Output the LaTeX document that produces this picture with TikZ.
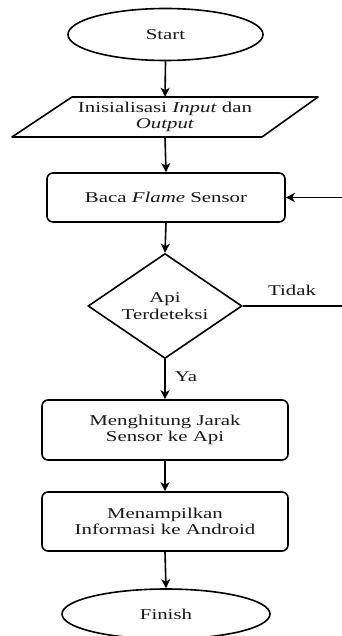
\documentclass[tikz,border=0pt]{standalone}
\usepackage{fontspec}
\setmainfont{Liberation Serif}[FakeStretch=1.39]
\usetikzlibrary{shapes.geometric,arrows.meta}
\begin{document}
\begin{tikzpicture}[x=1pt,y=-1pt,
  every node/.style={font=\fontsize{15}{16}\selectfont, text=black!90, align=center},
  line/.style={line width=1.6pt, black},
  arr/.style={line width=1.6pt, -{Stealth[length=9pt,width=9pt,inset=2.5pt]}},
  term/.style={ellipse, draw, line width=1.6pt, inner sep=0pt},
  proc/.style={rectangle, draw, line width=1.6pt, rounded corners=6pt, inner sep=0pt},
  dec/.style={diamond, draw, line width=1.6pt, inner sep=0pt, aspect=1.47},
  lbl/.style={inner sep=0pt}
]
\useasboundingbox (0,0) rectangle (341,636);

\node[term, minimum width=195, minimum height=52] (start) at (165.5,34.5) {Start};

\node[inner sep=0pt, minimum width=190, minimum height=40] (io) at (165,117) {Inisialisasi \textit{Input} dan\\\textit{Output}};
\draw[line, line join=round] (72,97) -- (318,97) -- (262,137) -- (12,137) -- cycle;

\node[proc, minimum width=238, minimum height=49] (baca) at (166,197.5) {Baca \textit{Flame} Sensor};

\node[dec, minimum width=154, minimum height=105] (api) at (165,306) {Api\\[1pt]Terdeteksi};

\node[proc, minimum width=246, minimum height=60] (hitung) at (165,430) {Menghitung Jarak\\Sensor ke Api};

\node[proc, minimum width=246, minimum height=59] (tampil) at (165,521.5) {Menampilkan\\Informasi ke Android};

\node[term, minimum width=208, minimum height=50] (finish) at (166,614) {Finish};

\coordinate (rb) at (346,306);

\draw[arr] (start.south) -- (io.north);
\draw[arr] (io.south) -- (baca.north);
\draw[arr] (baca.south) -- (api.north);
\draw[arr] (api.south) -- node[lbl, right, xshift=9pt, yshift=3pt] (ya) {Ya} (hitung.north);
\draw[arr] (hitung.south) -- (tampil.north);
\draw[arr] (tampil.south) -- (finish.north);
\draw[arr] (api.east) -- (rb) |- (baca.east);
\node[lbl] (tidak) at (292,290) {Tidak};
\end{tikzpicture}
\end{document}
